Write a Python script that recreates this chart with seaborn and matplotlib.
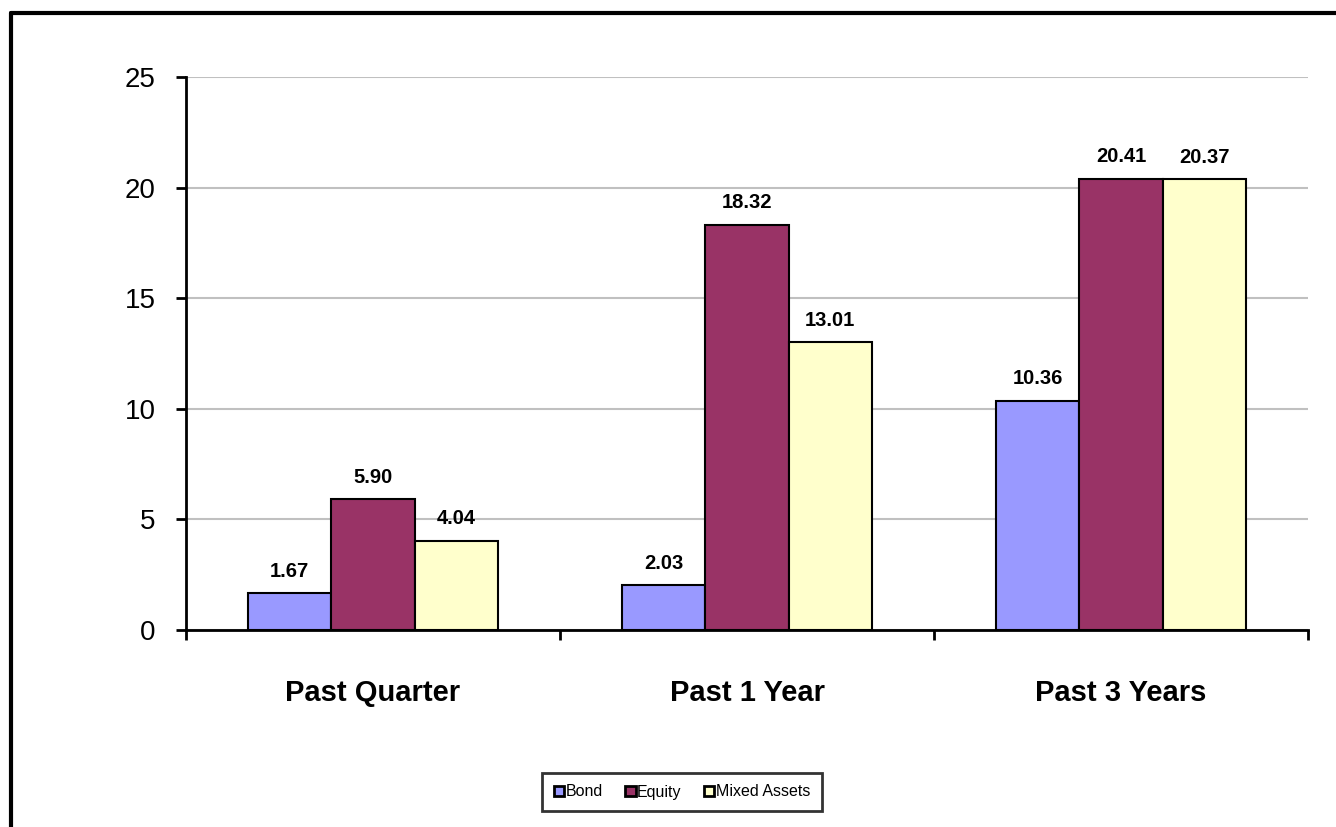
import numpy as np
import pandas as pd
import seaborn as sns
import matplotlib.pyplot as plt
from matplotlib.lines import Line2D

periods = ["Past Quarter", "Past 1 Year", "Past 3 Years"]
funds = ["Bond", "Equity", "Mixed Assets"]
bond = [1.67, 2.03, 10.36]
equity = [5.90, 18.32, 20.41]
mixed = [4.04, 13.01, 20.37]
colors = ["#9999FF", "#993366", "#FFFFCC"]

df = pd.DataFrame({
    "period": periods * 3,
    "fund": ["Bond"] * 3 + ["Equity"] * 3 + ["Mixed Assets"] * 3,
    "value": bond + equity + mixed,
})

sns.set_style("white")
plt.rcParams["font.family"] = ["Liberation Sans", "DejaVu Sans"]
plt.rcParams["text.color"] = "black"
plt.rcParams["xtick.color"] = "black"
plt.rcParams["ytick.color"] = "black"

fig = plt.figure(figsize=(13.36, 8.27), dpi=100)
ax = fig.add_axes([186 / 1336, 1 - 630 / 827, (1308 - 186) / 1336, (630 - 77) / 827])

sns.barplot(data=df, x="period", y="value", hue="fund", order=periods, hue_order=funds,
            palette=colors, saturation=1, width=0.667, gap=0,
            edgecolor="black", linewidth=1.5, ax=ax, zorder=3)

for c in ax.containers:
    ax.bar_label(c, fmt="%.2f", padding=9, fontsize=14.5, fontweight="bold", color="black")

ax.set_ylim(0, 25)
ax.set_xlim(-0.5, 2.5)
ax.set_yticks(range(0, 26, 5))
ax.tick_params(axis="y", labelsize=20, length=7, width=2, pad=15, direction="out", left=True,
               labelcolor="black")
ax.set_xticks([-0.5, 0.5, 1.5, 2.5], minor=True)
ax.tick_params(axis="x", which="minor", length=7, width=2, direction="out", bottom=True)
ax.tick_params(axis="x", which="major", length=0, pad=35, labelsize=21, labelcolor="black")
for lbl in ax.get_xticklabels():
    lbl.set_fontweight("bold")
ax.set_xlabel("")
ax.set_ylabel("")

ax.yaxis.grid(True, color="#C0C0C0", linewidth=1.5, zorder=0)
ax.set_axisbelow(True)
for s in ["top", "right"]:
    ax.spines[s].set_visible(False)
for s in ["left", "bottom"]:
    ax.spines[s].set_color("black")
    ax.spines[s].set_linewidth(2)

ax.get_legend().remove()
handles = [plt.Rectangle((0, 0), 1, 1, facecolor=col, edgecolor="black", linewidth=2) for col in colors]
leg = fig.legend(handles, funds, loc="center", bbox_to_anchor=(682 / 1336, 1 - 792 / 827), ncol=3,
                 fontsize=11.5, handlelength=0.65, handleheight=0.65, handletextpad=0.1,
                 columnspacing=1.4, frameon=True, fancybox=False, borderpad=0.75)
leg.get_frame().set_edgecolor("black")
leg.get_frame().set_linewidth(2)

# outer chart border (left and top edges visible)
fig.add_artist(Line2D([11 / 1336, 11 / 1336], [0, 1 - 13 / 827], color="black", lw=3,
                      transform=fig.transFigure))
fig.add_artist(Line2D([11 / 1336, 1], [1 - 13 / 827, 1 - 13 / 827], color="black", lw=3,
                      transform=fig.transFigure))

fig.savefig("out.png", dpi=100)
